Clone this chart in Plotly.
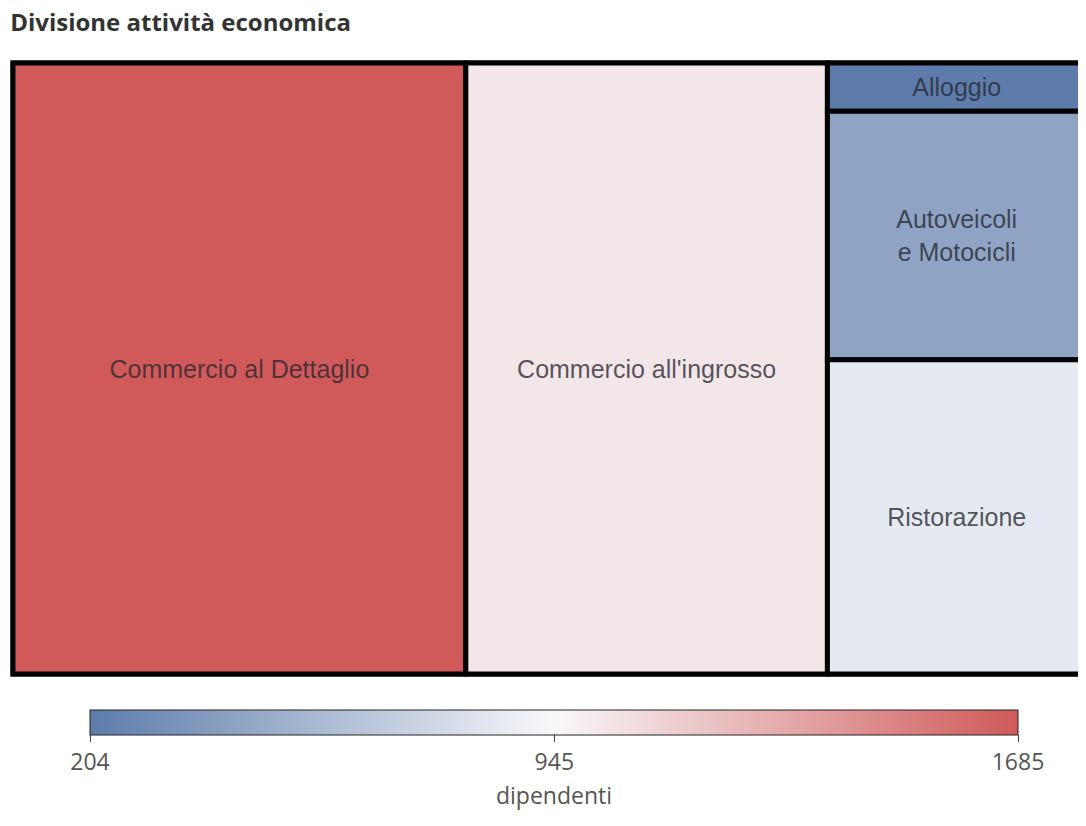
import plotly.graph_objects as go

labels = ["Commercio al Dettaglio", "Commercio all'ingrosso", "Alloggio",
          "Autoveicoli<br>e Motocicli", "Ristorazione"]
parents = ["", "", "", "", ""]
area_values = [422, 337, 19, 98, 124]
dipendenti = [1685, 1029, 204, 441, 856]
tick_vals = [204, 945, 1685]

fig = go.Figure(go.Treemap(
    labels=labels,
    parents=parents,
    values=area_values,
    sort=False,
    textinfo="label",
    textposition="middle center",
    textfont=dict(family="Liberation Sans, Arial", size=25, color="rgba(40,40,48,0.78)"),
    tiling=dict(packing="squarify", pad=0),
    marker=dict(
        colors=dipendenti,
        colorscale=[[0, "#5d7cab"], [0.5, "#f8f8fa"], [1, "#d05a5a"]],
        cmin=204, cmax=1685,
        line=dict(color="black", width=5),
        pad=dict(t=0, l=0, r=0, b=0),
        showscale=True,
        colorbar=dict(
            orientation="h",
            x=0.5042, xanchor="center",
            y=-0.0589, yanchor="top",
            len=0.8649, lenmode="fraction",
            thickness=25, xpad=0, ypad=0,
            outlinecolor="#222", outlinewidth=1,
            tickvals=tick_vals, ticktext=[str(v) for v in tick_vals],
            ticks="outside", ticklen=7, tickcolor="#444",
            tickfont=dict(family="Open Sans", size=23, color="#555"),
            title=dict(text="dipendenti", side="bottom",
                       font=dict(family="Open Sans", size=23, color="#555")),
        ),
    ),
    hoverinfo="label+value",
))

fig.update_layout(
    width=1078, height=818,
    margin=dict(l=5, r=0, t=55, b=152),
    paper_bgcolor="white",
    title=dict(text="<b>Divisione attività economica</b>", x=0.002, xanchor="left",
               y=0.993, yanchor="top", pad=dict(t=0, b=0, l=0, r=0),
               font=dict(family="Open Sans", size=24, color="#333")),
)

fig.write_html("out.html")
